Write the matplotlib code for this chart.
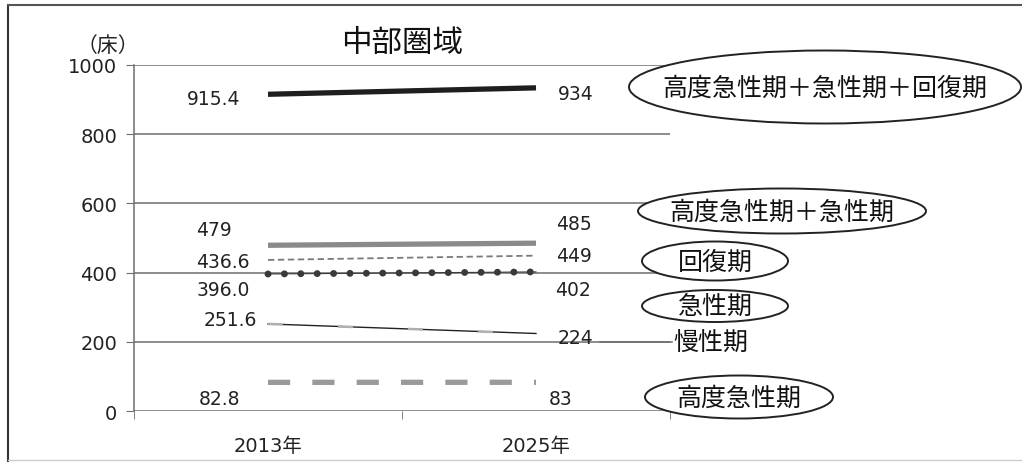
import matplotlib.pyplot as plt
from matplotlib.patches import Ellipse
from matplotlib.lines import Line2D

plt.rcParams['font.family'] = ['Noto Sans CJK JP', 'DejaVu Sans']
num_font = ['DejaVu Sans', 'Noto Sans CJK JP']

years = ["2013年", "2025年"]
total3 = [915.4, 934]       # 高度急性期+急性期+回復期
acute2 = [479, 485]         # 高度急性期+急性期
recovery = [436.6, 449]     # 回復期
acute = [396.0, 402]        # 急性期
chronic = [251.6, 224]      # 慢性期
high_acute = [82.8, 83]     # 高度急性期
left_labels = ["915.4", "479", "436.6", "396.0", "251.6", "82.8"]
right_labels = ["934", "485", "449", "402", "224", "83"]

W, H = 1022, 464
fig = plt.figure(figsize=(W / 100, H / 100), dpi=100)
ax = fig.add_axes([134 / W, 1 - 412 / H, (670 - 134) / W, (412 - 66) / H])

def px(x, y):
    return x / W, 1 - y / H

x = [0, 1]
grid_c = "#6e6e6e"
for v in range(0, 1001, 200):
    ax.axhline(v, color=grid_c, lw=1.1, zorder=1)

ax.plot(x, total3, color="#1e1e1e", lw=3.8, solid_capstyle="butt", zorder=3)
ax.plot(x, acute2, color="#8a8a8a", lw=3.8, solid_capstyle="butt", zorder=3)
ax.plot(x, recovery, color="#7a7a7a", lw=1.3, dashes=(3.5, 2), zorder=3)
ax.plot(x, acute, color="#3a3a3a", lw=0.8, zorder=3)
ax.plot(x, acute, color="#3a3a3a", lw=5, dashes=(0.01, 2.35), dash_capstyle="round", zorder=3)
ax.plot(x, chronic, color="#222222", lw=1.0, zorder=3)
ax.plot(x, chronic, color="#b0b0b0", lw=1.8, dashes=(6, 22), zorder=4)
ax.plot(x, high_acute, color="#9a9a9a", lw=3.8, dashes=(4.2, 4.2), zorder=3)

ax.set_xlim(-0.5, 1.5)
ax.set_ylim(0, 1000)
ax.set_yticks(range(0, 1001, 200))
ax.set_xticks(x)
ax.set_xticklabels(years, fontsize=14, family=num_font)
ax.set_xticks([-0.5, 0.5, 1.5], minor=True)
ax.tick_params(axis="x", which="major", length=0, pad=18)
ax.tick_params(axis="x", which="minor", length=6, color=grid_c, direction="out")
ax.tick_params(axis="y", length=6, color=grid_c, labelsize=14, pad=6)
for s in ["top", "right", "bottom"]:
    ax.spines[s].set_visible(False)
ax.spines["left"].set_color(grid_c)
ax.spines["left"].set_linewidth(1.1)
for lbl in ax.get_yticklabels():
    lbl.set_family(num_font)
for lbl in ax.get_yticklabels() + ax.get_xticklabels():
    lbl.set_color("#222222")

# value labels
left_pos = [(240, 100), (232, 231), (250, 262), (250, 291), (257, 320), (240, 400)]
right_pos = [(558, 95), (556, 224), (556, 257), (555, 291), (558, 339), (549, 400)]
for t, (xx, yy) in zip(left_labels, left_pos):
    fig.text(*px(xx, yy), t, ha="right", va="center", fontsize=13.5, color="#222222", family=num_font)
for t, (xx, yy) in zip(right_labels, right_pos):
    fig.text(*px(xx, yy), t, ha="left", va="center", fontsize=13.5, color="#222222", family=num_font)

# title and unit
fig.text(*px(402, 43), "中部圏域", ha="center", va="center", fontsize=22, color="#111111")
fig.text(*px(108, 46), "（床）", ha="center", va="center", fontsize=15, color="#222222")

# ellipse labels
ell = [
    ("高度急性期＋急性期＋回復期", 825, 88, 392, 73),
    ("高度急性期＋急性期", 782, 212, 288, 45),
    ("回復期", 715, 262, 146, 39),
    ("急性期", 715, 307, 146, 32),
    ("高度急性期", 739, 398, 188, 43),
]
for t, cx, cy, w, h in ell:
    e = Ellipse(px(cx, cy), w / W, h / H, transform=fig.transFigure,
                facecolor="white", edgecolor="#222222", lw=1.4, zorder=5)
    fig.patches.append(e)
    fig.text(*px(cx, cy + 1), t, ha="center", va="center", fontsize=18, color="#111111", zorder=6)

fig.text(*px(711, 344), "慢性期", ha="center", va="center", fontsize=18, color="#111111")
fig.lines.append(Line2D([600 / W, 672 / W], [1 - 343 / H, 1 - 343 / H],
                        transform=fig.transFigure, color=grid_c, lw=1.1))

# outer frame
fig.lines.append(Line2D([8 / W, 8 / W], [1 - 462 / H, 1 - 6 / H], transform=fig.transFigure, color="#333333", lw=1.5))
fig.lines.append(Line2D([8 / W, 1], [1 - 6 / H, 1 - 6 / H], transform=fig.transFigure, color="#555555", lw=1.5))
fig.lines.append(Line2D([8 / W, 1], [1 - 461 / H, 1 - 461 / H], transform=fig.transFigure, color="#cccccc", lw=1))

fig.savefig("out.png", dpi=100)
